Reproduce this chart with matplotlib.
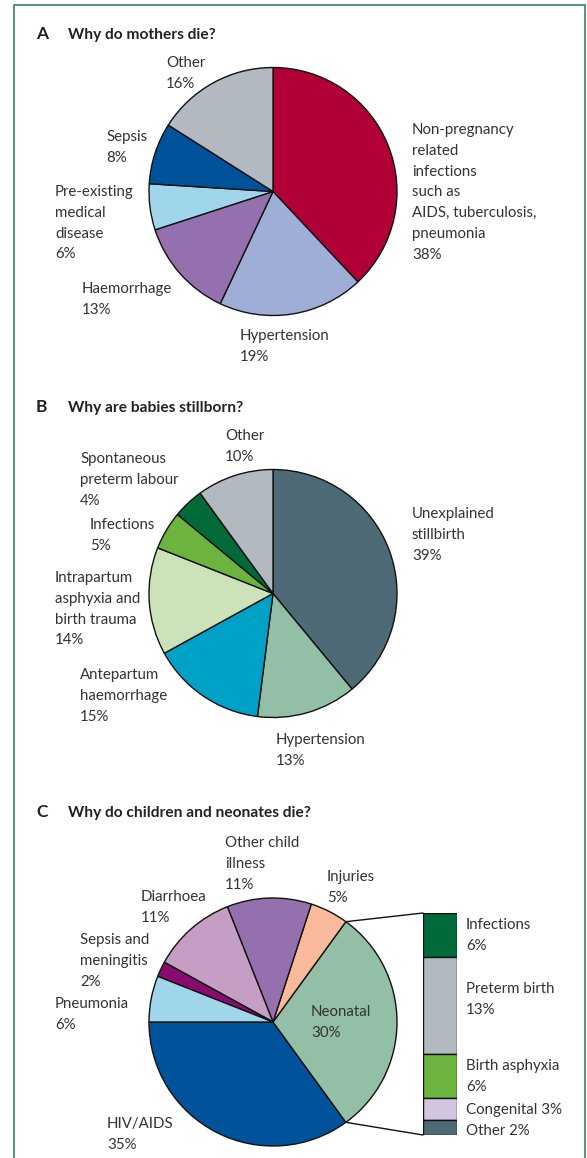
import matplotlib
matplotlib.use("Agg")
import matplotlib.pyplot as plt
from matplotlib.patches import ConnectionPatch
import numpy as np

W, H = 587, 1158

# A: maternal deaths, clockwise from 12 o'clock
a_labels = ["Non-pregnancy\nrelated\ninfections\nsuch as\nAIDS, tuberculosis,\npneumonia",
            "Hypertension", "Haemorrhage", "Pre-existing\nmedical\ndisease",
            "Sepsis", "Other"]
a_values = [38, 19, 13, 6, 8, 16]
a_colors = ["#b10036", "#9eaed6", "#9570ae", "#9fd6e9", "#00529b", "#b3b9c0"]

# B: stillbirths, clockwise from 12 o'clock
b_labels = ["Unexplained\nstillbirth", "Hypertension", "Antepartum\nhaemorrhage",
            "Intrapartum\nasphyxia and\nbirth trauma", "Infections",
            "Spontaneous\npreterm labour", "Other"]
b_values = [39, 13, 15, 14, 5, 4, 10]
b_colors = ["#4d6a76", "#93bfa7", "#00a1c7", "#cce2b8", "#6cb33f", "#006b38", "#b3b9c0"]

# C: child and neonatal deaths, anticlockwise from 9 o'clock
c_labels = ["HIV/AIDS", "Neonatal", "Injuries", "Other child\nillness", "Diarrhoea",
            "Sepsis and\nmeningitis", "Pneumonia"]
c_values = [35, 30, 5, 11, 11, 2, 6]
c_colors = ["#00529b", "#93bfa7", "#f9b99b", "#9570ae", "#c69ec3", "#8a0b6f", "#9fd6e9"]

# neonatal breakdown, top to bottom
n_labels = ["Infections\n6%", "Preterm birth\n13%", "Birth asphyxia\n6%",
            "Congenital 3%", "Other 2%"]
n_values = [6, 13, 6, 3, 2]
n_colors = ["#006b38", "#b3b9c0", "#6cb33f", "#d3c4e0", "#4d6a76"]

plt.rcParams["font.family"] = ["Lato", "DejaVu Sans"]
TXT = "#333333"
FS = 10.8
PITCH = 20.8  # px between text lines

fig = plt.figure(figsize=(W / 100, H / 100), dpi=100)
ax = fig.add_axes([0, 0, 1, 1])


def Y(py):
    return H - py


def label(x, y, s):
    # y is the first line's baseline, in pixels from the top
    for i, line in enumerate(s.split("\n")):
        ax.text(x, Y(y + i * PITCH), line, fontsize=FS, color=TXT,
                va="baseline", ha="left")


def heading(y, letter, title):
    ax.text(36, Y(y), letter, fontsize=12.5, fontweight="bold", color="#222222",
            va="baseline")
    ax.text(68, Y(y), title, fontsize=11.2, fontweight="bold", color="#222222",
            va="baseline")


wp = dict(edgecolor="#111111", linewidth=1.0)
R = 124

# panel A
heading(39, "A", "Why do mothers die?")
ax.pie(a_values, colors=a_colors, startangle=90, counterclock=False,
       center=(273, Y(191.5)), radius=R, wedgeprops=wp)
a_pos = [(412, 134), (240, 340), (82, 293), (55, 196), (106, 141), (166, 67)]
for (x, y), s, v in zip(a_pos, a_labels, a_values):
    label(x, y, f"{s}\n{v}%")

# panel B
heading(412, "B", "Why are babies stillborn?")
ax.pie(b_values, colors=b_colors, startangle=90, counterclock=False,
       center=(273, Y(593.5)), radius=R, wedgeprops=wp)
b_pos = [(412, 518), (276, 744), (80, 679), (55, 582), (90, 529), (80, 463), (225, 440)]
for (x, y), s, v in zip(b_pos, b_labels, b_values):
    label(x, y, f"{s}\n{v}%")

# panel C
heading(817, "C", "Why do children and neonates die?")
cc = (273, Y(1022))
ax.pie(c_values, colors=c_colors, startangle=180, counterclock=True,
       center=cc, radius=R, wedgeprops=wp)
c_pos = [(107, 1128), (311, 1016), (327, 881), (225, 847), (141, 901), (80, 944), (55, 1008)]
for (x, y), s, v in zip(c_pos, c_labels, c_values):
    label(x, y, f"{s}\n{v}%")

# neonatal stacked bar
bx = fig.add_axes([423 / W, Y(1135) / H, 34 / W, 222 / H])
bottom = sum(n_values)
for v, col in zip(n_values, n_colors):
    bottom -= v
    bx.bar(0.5, v, bottom=bottom, width=1.0, color=col, edgecolor="#111111",
           linewidth=1.0)
bx.set_xlim(0, 1)
bx.set_ylim(0, sum(n_values))
bx.axis("off")

# connector lines from the neonatal wedge edges to the bar corners
t0 = 180 + 360 * c_values[0] / 100
t1 = t0 + 360 * c_values[1] / 100
for t, yb in ((t1, sum(n_values)), (t0, 0)):
    p = (cc[0] + R * np.cos(np.radians(t)), cc[1] + R * np.sin(np.radians(t)))
    fig.add_artist(ConnectionPatch(xyA=p, coordsA=ax.transData, xyB=(0, yb),
                                   coordsB=bx.transData, color="#111111", lw=1.0))

n_base = [929, 993, 1070, 1114, 1135]
for y, s in zip(n_base, n_labels):
    label(466, y, s)

# frame
ax.plot([14, 14, 585, 585], [0, Y(5), Y(5), 0], color="#2f8a55", lw=1.2,
        solid_joinstyle="miter")

ax.set_xlim(0, W)
ax.set_ylim(0, H)
ax.set_aspect("auto")
ax.axis("off")

fig.savefig("out.png", dpi=100)
